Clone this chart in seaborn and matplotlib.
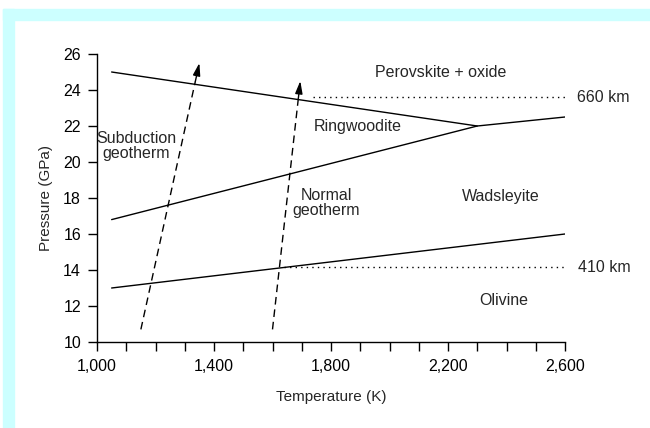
import matplotlib
matplotlib.use("Agg")
import matplotlib.pyplot as plt
from matplotlib.patches import Rectangle
import numpy as np
import pandas as pd
import seaborn as sns

# phase boundaries (temperature K, pressure GPa)
perov_T = [1050, 2300, 2600]
perov_P = [25.0, 22.0, 22.5]
ring_T = [1050, 2300]
ring_P = [16.8, 22.0]
olivine_T = [1050, 2600]
olivine_P = [13.0, 16.0]

# depth markers (dotted)
d660_T = [1740, 2600]
d660_P = [23.6, 23.6]
d410_T = [1640, 2600]
d410_P = [14.15, 14.15]

# geotherms (start -> arrow tip)
subd_T = [1150, 1350]
subd_P = [10.7, 25.5]
norm_T = [1600, 1695]
norm_P = [10.7, 24.5]

labels = [
    ("Perovskite + oxide", 2175, 25.0, "center"),
    ("Ringwoodite", 1890, 22.0, "center"),
    ("Subduction\ngeotherm", 1135, 20.9, "center"),
    ("Normal\ngeotherm", 1785, 17.7, "center"),
    ("Wadsleyite", 2380, 18.1, "center"),
    ("Olivine", 2390, 12.3, "center"),
    ("660 km", 2640, 23.6, "left"),
    ("410 km", 2645, 14.15, "left"),
]

sns.set_style("ticks")
plt.rcParams["font.family"] = ["Liberation Sans", "DejaVu Sans"]

fig = plt.figure(figsize=(6.5, 4.28), dpi=100)
W, H = 650, 428
# light cyan frame (top and left bands)
fig.patches.append(Rectangle((2.7 / W, 1 - 20 / H), 1, 11 / H,
                             transform=fig.transFigure, color="#ccffff", zorder=0))
fig.patches.append(Rectangle((2.7 / W, 0), 11 / W, 1 - 9 / H,
                             transform=fig.transFigure, color="#ccffff", zorder=0))

ax = fig.add_axes([97 / W, (428 - 342) / H, (565 - 97) / W, (342 - 54) / H])
ax.patch.set_alpha(0)

for T, P in [(perov_T, perov_P), (ring_T, ring_P), (olivine_T, olivine_P)]:
    sns.lineplot(x=T, y=P, ax=ax, color="black", lw=1.0, sort=False,
                 estimator=None)
for T, P in [(d660_T, d660_P), (d410_T, d410_P)]:
    sns.lineplot(x=T, y=P, ax=ax, color="black", lw=1.0, sort=False,
                 estimator=None, linestyle=(0, (1, 3)))

for T, P in [(subd_T, subd_P), (norm_T, norm_P)]:
    # dashed shaft stops a bit below the tip, solid head on top
    frac = 0.93
    T_end = T[0] + frac * (T[1] - T[0])
    P_end = P[0] + frac * (P[1] - P[0])
    sns.lineplot(x=[T[0], T_end], y=[P[0], P_end], ax=ax, color="black",
                 lw=1.0, sort=False, estimator=None, linestyle=(0, (5.5, 3.5)))
    ax.annotate("", xy=(T[1], P[1]), xytext=(T_end, P_end),
                arrowprops=dict(arrowstyle="-|>,head_length=0.75,head_width=0.22",
                                color="black", lw=1.0, shrinkA=0, shrinkB=0))

for txt, x, y, ha in labels:
    ax.text(x, y, txt, ha=ha, va="center", fontsize=11.5, linespacing=1.0,
            clip_on=False)

ax.set_xlim(1000, 2600)
ax.set_ylim(10, 26)
ax.set_xticks(np.arange(1000, 2601, 400))
ax.set_xticks(np.arange(1000, 2601, 100), minor=True)
ax.set_xticklabels([f"{v:,}" for v in range(1000, 2601, 400)])
ax.set_yticks(np.arange(10, 27, 2))
ax.tick_params(which="both", direction="out", length=6.5, width=1.0,
               color="black", labelsize=11.5, labelcolor="black")
ax.tick_params(axis="x", pad=6)
ax.tick_params(axis="y", pad=5)
ax.set_xlabel("Temperature (K)", fontsize=11, labelpad=11)
ax.set_ylabel("Pressure (GPa)", fontsize=11, labelpad=7)
sns.despine(ax=ax)
for s in ["left", "bottom"]:
    ax.spines[s].set_linewidth(1.0)
    ax.spines[s].set_color("black")

fig.savefig("out.png", dpi=100)
